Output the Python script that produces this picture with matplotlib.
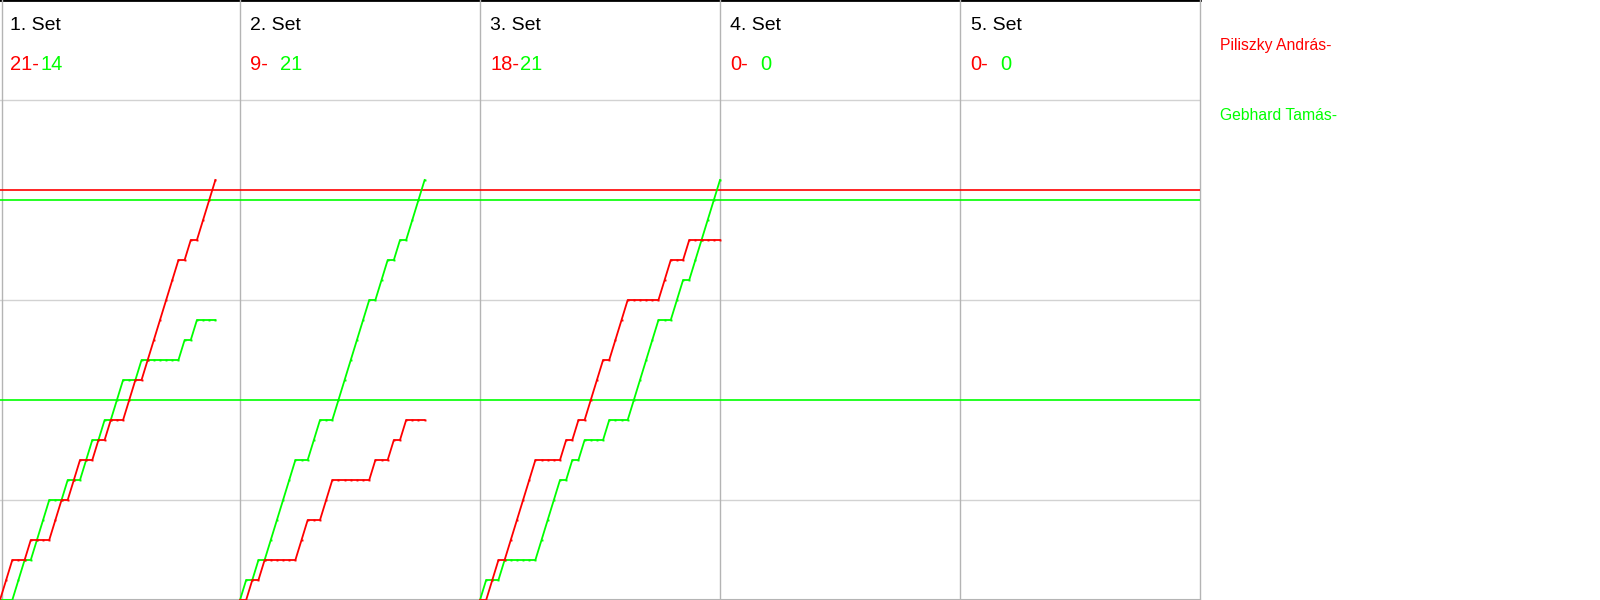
import numpy as np
import matplotlib
matplotlib.use("Agg")
from matplotlib import pyplot as plt

# players and set results
players = ["Piliszky András", "Gebhard Tamás"]
set_labels = ["1. Set", "2. Set", "3. Set", "4. Set", "5. Set"]
red_scores = [21, 9, 18, 0, 0]
green_scores = [14, 21, 21, 0, 0]

# who won each rally (R = Piliszky, G = Gebhard)
set1_rallies = "RR GG R GGG RR G RR GG R G R GG RR G RRRRRR G R G RRR"
set2_rallies = "G R G R GGGGG RR GG RR GGGGGG R GG R G R GGG"
set3_rallies = "G RR G RRRRR GGGG R G R G RRR G RRR GGGGG RR GG R GGGGG"
rallies = [set1_rallies, set2_rallies, set3_rallies, "", ""]

# reference levels
red_levels = [20.5]
green_levels = [20, 10]
grid_levels = [5, 15, 25]

RED = "#ff0000"
GREEN = "#00ff00"
SET_WIDTH = 39          # rallies per set column
PX = 240 / SET_WIDTH    # pixels per rally unit

fig = plt.figure(figsize=(16, 6), dpi=100)
ax = fig.add_axes([0, 0, 0.75, 1])
ax.set_xlim(0, SET_WIDTH * len(set_labels))
ax.set_ylim(0, 30)
ax.axis("off")

# grid
for g in grid_levels:
    ax.axhline(g, color="#d2d2d2", lw=1, zorder=1)
ax.axhline(0, color="#b4b4b4", lw=1.5, zorder=1, clip_on=False)
ax.axhline(30, color="black", lw=2, zorder=1, clip_on=False)
ax.axvline(2 / PX, color="#b4b4b4", lw=1, zorder=1)
for k in range(1, len(set_labels) + 1):
    ax.axvline(k * SET_WIDTH, color="#b4b4b4", lw=1, zorder=1, clip_on=False)

for lv in red_levels:
    ax.axhline(lv, color=RED, lw=1.2, zorder=2)
for lv in green_levels:
    ax.axhline(lv, color=GREEN, lw=1.2, zorder=2)

# score progression per set
for k, seq in enumerate(rallies):
    seq = seq.replace(" ", "")
    if not seq:
        continue
    wins = np.array([c == "R" for c in seq])
    red = np.concatenate([[0], np.cumsum(wins)])
    green = np.concatenate([[0], np.cumsum(~wins)])
    x = k * SET_WIDTH + np.arange(len(seq) + 1)
    ax.plot(x, green, color=GREEN, lw=1.3, marker="s", ms=1.4, mew=0, zorder=3)
    ax.plot(x, red, color=RED, lw=1.3, marker="s", ms=1.4, mew=0, zorder=4)

# set titles and scores
font = "Liberation Sans"
for k, label in enumerate(set_labels):
    x0 = k * SET_WIDTH
    ax.text(x0 + 10.5 / PX, 28.5, label, color="black", fontsize=14,
            family=font, va="baseline", ha="left")
    ax.text(x0 + 10 / PX, 26.5, f"{red_scores[k]}-", color=RED, fontsize=14.5,
            family=font, va="baseline", ha="left")
    ax.text(x0 + 40 / PX, 26.5, f"{green_scores[k]}", color=GREEN, fontsize=14.5,
            family=font, va="baseline", ha="left")

# player legend
fig.text(1220 / 1600, 1 - 50 / 600, players[0] + "-", color=RED, fontsize=11.3,
         family=font, va="baseline")
fig.text(1220 / 1600, 1 - 120 / 600, players[1] + "-", color=GREEN, fontsize=11.3,
         family=font, va="baseline")

fig.savefig("out.png", dpi=100)
